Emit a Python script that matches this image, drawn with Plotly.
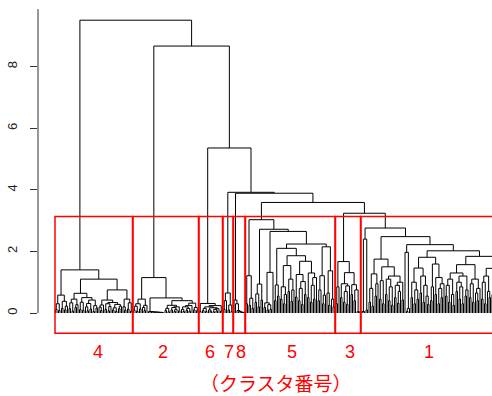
import numpy as np
import plotly.graph_objects as go

# ---------------- data ----------------
cluster_labels = ["4", "2", "6", "7", "8", "5", "3", "1"]
# merge heights joining neighbouring clusters (left to right)
between_heights = [9.51, 8.67, 5.36, 3.92, 3.89, 3.59, 3.24]

# merge height between each pair of adjacent leaves, per cluster
gaps_c4 = [0.12, 0.30, 0.08, 0.58, 0.15, 0.38, 0.10, 0.22, 1.40, 0.14,
           0.33, 0.06, 0.45, 0.18, 0.27, 0.64, 0.11, 0.35, 0.09, 0.50,
           0.20, 0.07, 0.31, 0.13, 0.42, 0.05, 0.24, 0.16, 1.10, 0.19,
           0.08, 0.26, 0.42, 0.12, 0.30, 0.07, 0.21, 0.34, 0.10, 0.17,
           0.05, 0.28, 0.14, 0.22, 0.75, 0.20, 0.09, 0.45, 0.13, 0.33,
           0.06]
gaps_c2 = [0.10, 0.22, 0.06, 0.30, 0.13, 0.45, 0.18, 0.08, 0.25, 1.15,
           0.05, 0.045, 0.04, 0.035, 0.03, 0.03, 0.025, 0.02, 0.02, 0.015,
           0.49, 0.08, 0.15, 0.04, 0.25, 0.10, 0.18, 0.05, 0.12, 0.20,
           0.07, 0.40, 0.12, 0.05, 0.20, 0.09, 0.15, 0.06, 0.24, 0.32,
           0.10, 0.18, 0.07]
gaps_c6 = [0.05, 0.31, 0.08, 0.15, 0.05, 0.20, 0.10, 0.06, 0.17, 0.04,
           0.12, 0.07, 0.14, 0.24, 0.06]
gaps_c7 = [0.12, 0.40, 0.65, 0.10, 0.26, 0.05]
gaps_c8 = [0.42, 0.30, 0.08, 0.05, 0.03, 0.02, 0.02]
gaps_c5 = [0.30, 1.21, 0.25, 0.48, 0.15, 3.03, 0.35, 0.62, 0.20, 0.94,
           0.42, 2.72, 0.18, 0.33, 0.10, 0.27, 0.12, 1.32, 2.65, 0.40,
           0.91, 0.55, 2.10, 0.45, 0.85, 0.30, 0.60, 1.54, 0.70, 1.10,
           0.38, 0.75, 1.86, 0.52, 1.25, 0.40, 0.80, 0.28, 1.02, 0.60,
           1.68, 0.50, 1.30, 0.35, 0.90, 0.45, 1.15, 2.24, 0.40, 0.75,
           1.21, 0.30, 0.58, 2.15, 0.65, 0.25, 1.37, 0.45, 0.20]
gaps_c3 = [0.30, 0.85, 1.67, 0.50, 0.95, 0.35, 0.70, 0.28, 0.88, 1.31,
           0.60, 0.92, 0.40, 0.75, 0.04, 0.03]
gaps_c1 = [0.03, 0.05, 2.40, 0.10, 2.76, 0.35, 0.80, 0.22, 1.27, 0.55,
           0.95, 1.75, 0.45, 1.05, 0.30, 1.50, 0.60, 1.10, 0.40, 0.85,
           0.25, 1.20, 0.50, 0.90, 0.32, 0.70, 1.00, 0.42, 2.48, 1.97,
           0.05, 0.15, 2.22, 0.50, 1.00, 0.30, 0.75, 0.45, 1.46, 0.65,
           1.20, 0.35, 0.90, 0.55, 0.28, 1.81, 0.40, 0.85, 1.59, 0.60,
           1.15, 0.30, 0.80, 0.50, 0.95, 2.02, 0.55, 0.90, 0.35, 1.10,
           0.60, 0.25, 1.30, 0.70, 1.00, 0.45, 0.85, 0.30, 1.20, 0.55,
           0.75, 1.57, 0.50, 0.95, 0.35, 1.10, 0.65, 0.40, 0.80, 1.84,
           0.45, 1.00, 0.30, 1.20, 0.70, 0.50, 1.45, 0.60, 1.05, 0.35,
           0.80, 1.30, 0.50, 0.90, 0.25, 0.70, 1.10, 0.40, 0.65]

cluster_gaps = [gaps_c4, gaps_c2, gaps_c6, gaps_c7, gaps_c8, gaps_c5, gaps_c3, gaps_c1]
title_text = "（クラスタ番号）"

# ---------------- layout constants ----------------
W, H = 492, 396
L_MARGIN = 38
PX0, S = 55.5, 1.5          # pixel of first leaf, pixel spacing of leaves
Y0PX, PXU = 313.0, 30.79    # pixel of height 0, pixels per unit
RECT_BOTTOM = -0.66
LABEL_Y = (Y0PX - 351.7) / PXU
TITLE_Y = (Y0PX - 382.5) / PXU
LABEL_DX = [3.0, -2.0, -0.5, 0.9, 1.0, 1.4, 1.3, -4.3]   # leaf units

# ---------------- build tree ----------------
gaps = []
starts, ends = [], []
pos = 0
for k, g in enumerate(cluster_gaps):
    starts.append(pos)
    ends.append(pos + len(g))
    pos += len(g) + 1
    gaps.extend(g)
    if k < len(between_heights):
        gaps.append(between_heights[k])
gaps = np.array(gaps, dtype=float)

xs, ys, merge_heights = [], [], []


def build(lo, hi):
    if lo == hi:
        return float(lo), 0.0
    k = lo + int(np.argmax(gaps[lo:hi]))
    h = float(gaps[k])
    xl, hl = build(lo, k)
    xr, hr = build(k + 1, hi)
    xs.extend([xl, xl, xr, xr, None])
    ys.extend([hl, h, h, hr, None])
    merge_heights.append(h)
    return (xl + xr) / 2.0, h


build(0, len(gaps))

hs = sorted(merge_heights, reverse=True)
kcl = len(cluster_labels)
rect_top = (hs[kcl - 2] + hs[kcl - 1]) / 2.0

fig = go.Figure()
fig.add_trace(go.Scatter(x=xs, y=ys, mode="lines",
                         line=dict(color="black", width=1),
                         hoverinfo="skip", showlegend=False))

shapes = []
for s0, e0 in zip(starts, ends):
    shapes.append(dict(type="rect", xref="x", yref="y",
                       x0=s0 - 0.34, x1=e0 + 0.33, y0=RECT_BOTTOM, y1=rect_top,
                       line=dict(color="#ff0000", width=1.5), fillcolor="rgba(0,0,0,0)"))
shapes.append(dict(type="line", xref="paper", yref="y", x0=0, x1=0, y0=0, y1=9.87,
                   line=dict(color="#333333", width=1)))

annotations = []
for lab, s0, e0, dx in zip(cluster_labels, starts, ends, LABEL_DX):
    annotations.append(dict(x=(s0 + e0) / 2.0 + dx, y=LABEL_Y, xref="x", yref="y",
                             text=lab, showarrow=False,
                             font=dict(family="Liberation Sans, Arial", size=18, color="#ff0000"),
                             xanchor="center", yanchor="middle"))
annotations.append(dict(x=(275.8 - PX0) / S, y=TITLE_Y, xref="x", yref="y",
                        text=title_text, showarrow=False, borderpad=0,
                        font=dict(family="Noto Sans CJK JP", size=19, color="#ff0000"),
                        xanchor="center", yanchor="middle"))

fig.update_layout(
    width=W, height=H,
    margin=dict(l=L_MARGIN, r=0, t=0, b=0, pad=0),
    plot_bgcolor="white", paper_bgcolor="white",
    shapes=shapes, annotations=annotations,
    xaxis=dict(visible=False, range=[(L_MARGIN - PX0) / S, (W - PX0) / S]),
    yaxis=dict(range=[-(H - Y0PX) / PXU, Y0PX / PXU],
               tickvals=[0, 2, 4, 6, 8], ticktext=["0", "2", "4", "6", "8"],
               ticks="outside", ticklen=7, tickwidth=1, tickcolor="#333333",
               tickangle=-90, ticklabelstandoff=8,
               showline=False, showgrid=False, zeroline=False,
               tickfont=dict(family="Liberation Sans, Arial", size=13, color="#222222")),
)

fig.write_html("out.html", config={"displayModeBar": False},
               post_script="document.body.style.margin='0';")
